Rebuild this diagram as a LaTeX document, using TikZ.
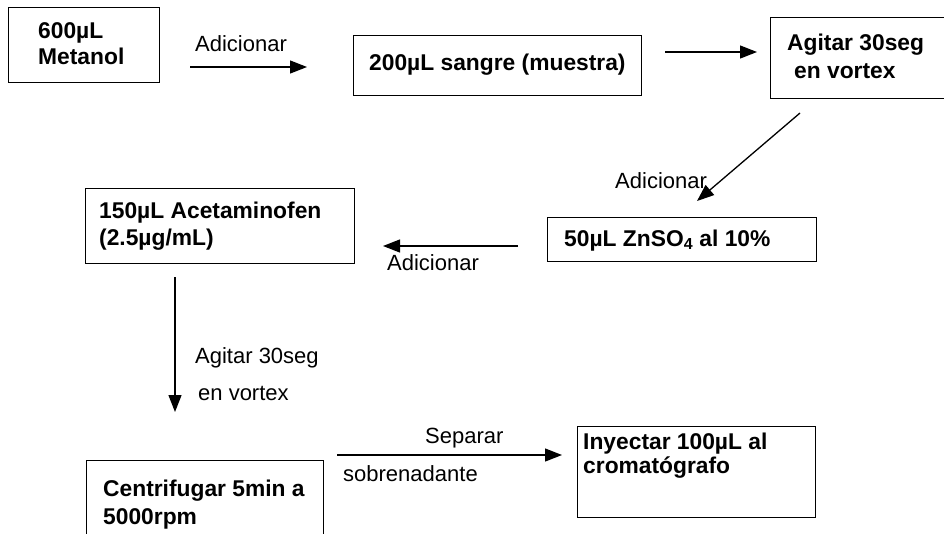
\documentclass[tikz,border=0pt]{standalone}
\usepackage{fontspec}
\setmainfont{Liberation Sans}
\usetikzlibrary{arrows.meta}
\tikzset{
  box/.style={draw=black, line width=1.4pt, rectangle, anchor=north west, inner sep=0pt},
  bt/.style={anchor=base west, inner sep=0pt, font=\fontsize{22.8}{26}\selectfont\bfseries},
  lbl/.style={anchor=base west, inner sep=0pt, font=\fontsize{22}{25}\selectfont},
  arr/.style={line width=1.3pt, -{Triangle[length=17pt,width=13pt]}}
}
\begin{document}
\begin{tikzpicture}[x=1pt,y=-1pt]
\useasboundingbox (0,0) rectangle (944,533);
% boxes
\node[box, minimum width=151pt, minimum height=75pt] (b1) at (8,7) {};
\node[box, minimum width=288pt, minimum height=60pt] (b2) at (353,35) {};
\node[box, minimum width=190pt, minimum height=81pt] (b3) at (770,17) {};
\node[box, minimum width=269pt, minimum height=44pt] (b4) at (547,217) {};
\node[box, minimum width=269pt, minimum height=75pt] (b5) at (85,188) {};
\node[box, minimum width=237pt, minimum height=90pt] (b6) at (86,460) {};
\node[box, minimum width=238pt, minimum height=91pt] (b7) at (577,426) {};
% box texts
\node[bt] (t1a) at (38,38) {600µL};
\node[bt] (t1b) at (38,64) {Metanol};
\node[bt] (t2) at (369,70) {200µL sangre (muestra)};
\node[bt] (t3a) at (787,50) {Agitar 30seg};
\node[bt] (t3b) at (794,78) {en vortex};
\node[bt] (t4) at (564,246) {50µL ZnSO\textsubscript{4} al 10\%};
\node[bt] (t5a) at (99,218) {150µL Acetaminofen};
\node[bt] (t5b) at (99,245) {(2.5µg/mL)};
\node[bt] (t6a) at (103,496) {Centrifugar 5min a};
\node[bt] (t6b) at (103,524) {5000rpm};
\node[bt] (t7a) at (583,449) {Inyectar 100µL al};
\node[bt] (t7b) at (583,473) {cromatógrafo};
% arrow end points
\coordinate (a1s) at (190,67); \coordinate (a1e) at (307,67);
\coordinate (a2s) at (665,52); \coordinate (a2e) at (757,52);
\coordinate (a3s) at (800,113); \coordinate (a3e) at (697,201);
\coordinate (a4s) at (518,246); \coordinate (a4e) at (383,246);
\coordinate (a5s) at (175,277); \coordinate (a5e) at (175,412);
\coordinate (a6s) at (337,455); \coordinate (a6e) at (562,455);
\draw[arr] (a1s) -- (a1e);
\draw[arr] (a2s) -- (a2e);
\draw[arr] (a3s) -- (a3e);
\draw[arr] (a4s) -- (a4e);
\draw[arr] (a5s) -- (a5e);
\draw[arr] (a6s) -- (a6e);
% labels
\node[lbl] (l1) at (195,51) {Adicionar};
\node[lbl] (l2) at (615,188) {Adicionar};
\node[lbl] (l3) at (387,270) {Adicionar};
\node[lbl] (l4) at (195,363) {Agitar 30seg};
\node[lbl] (l5) at (198,400) {en vortex};
\node[lbl] (l6) at (425,443) {Separar};
\node[lbl] (l7) at (343,481) {sobrenadante};
\end{tikzpicture}
\end{document}
